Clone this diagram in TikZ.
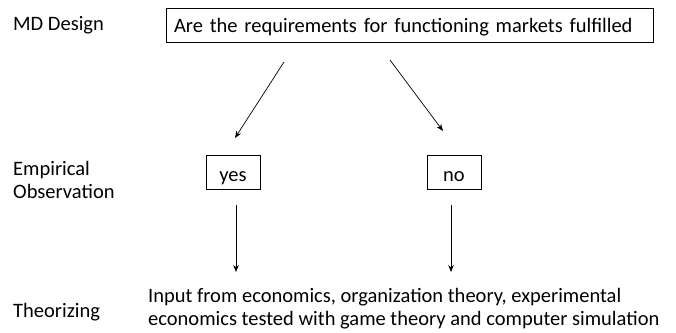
\documentclass[tikz,border=0pt]{standalone}
\usepackage{fontspec}
\setmainfont{Carlito}
\usetikzlibrary{arrows.meta}
\begin{document}
\begin{tikzpicture}[x=1pt,y=-1pt,
  txt/.style={font=\fontsize{20.5}{23}\selectfont},
  lbl/.style={txt,anchor=base west,align=left,inner sep=0pt},
  box/.style={txt,draw,line width=0.8pt,inner ysep=0pt},
  arr/.style={-{Stealth[length=7pt,width=5.5pt]},line width=0.7pt}]
\useasboundingbox (0,0) rectangle (676,332);
\node[lbl] (md) at (13,30) {MD Design};
\node[box,minimum width=487pt,minimum height=34pt,text width=471pt,inner xsep=8pt,align=left,text height=14pt,text depth=0pt] (q) at (409.5,25) {Are the requirements for functioning markets fulfilled};
\node[lbl] (emp) at (13,198) {Empirical\\Observation};
\node[box,minimum width=54pt,minimum height=34pt,text height=18pt,text depth=0pt] (yes) at (233,172) {yes};
\node[box,minimum width=54pt,minimum height=34pt,text height=18pt,text depth=0pt] (no) at (454,172) {no};
\node[lbl] (th) at (13,317) {Theorizing};
\node[lbl] (inp) at (148,325) {Input from economics, organization theory, experimental\\economics tested with game theory and computer simulation};
\coordinate (a1s) at (284,62);
\coordinate (a1e) at (235,138);
\coordinate (a2s) at (390,60);
\coordinate (a2e) at (443,131);
\coordinate (b1s) at (236,205);
\coordinate (b1e) at (236,272);
\coordinate (b2s) at (451,205);
\coordinate (b2e) at (451,272);
\draw[arr] (a1s) -- (a1e);
\draw[arr] (a2s) -- (a2e);
\draw[arr] (b1s) -- (b1e);
\draw[arr] (b2s) -- (b2e);
\end{tikzpicture}
\end{document}
